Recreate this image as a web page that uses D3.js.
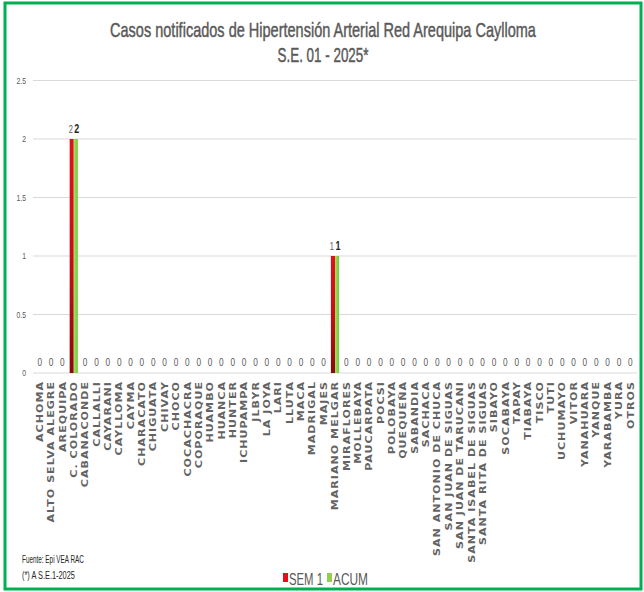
<html>
<head>
<meta charset="utf-8">
<script src="https://d3js.org/d3.v7.min.js"></script>
<style>
  body { margin: 0; background: #fff; }
  .narrow { font-family: "Liberation Sans Narrow", "Arial Narrow", "Liberation Sans", sans-serif; }
</style>
</head>
<body>
<svg id="chart"></svg>
<script>
  const districts = ["ACHOMA", "ALTO SELVA ALEGRE", "AREQUIPA", "C. COLORADO", "CABANACONDE", "CALLALLI",
    "CAYARANI", "CAYLLOMA", "CAYMA", "CHARACATO", "CHIGUATA", "CHIVAY", "CHOCO", "COCACHACRA", "COPORAQUE",
    "HUAMBO", "HUANCA", "HUNTER", "ICHUPAMPA", "JLBYR", "LA JOYA", "LARI", "LLUTA", "MACA", "MADRIGAL",
    "MAJES", "MARIANO MELGAR", "MIRAFLORES", "MOLLEBAYA", "PAUCARPATA", "POCSI", "POLOBAYA", "QUEQUEÑA",
    "SABANDIA", "SACHACA", "SAN ANTONIO DE CHUCA", "SAN JUAN DE SIGUAS", "SAN JUAN DE TARUCANI",
    "SANTA ISABEL DE SIGUAS", "SANTA RITA DE SIGUAS", "SIBAYO", "SOCABAYA", "TAPAY", "TIABAYA", "TISCO",
    "TUTI", "UCHUMAYO", "VITOR", "YANAHUARA", "YANQUE", "YARABAMBA", "YURA", "OTROS"];
  const sem1 = districts.map(d => d === "C. COLORADO" ? 2 : d === "MARIANO MELGAR" ? 1 : 0);
  const acum = districts.map(d => d === "C. COLORADO" ? 2 : d === "MARIANO MELGAR" ? 1 : 0);
  const yTicks = [0, 0.5, 1, 1.5, 2, 2.5];

  const W = 644, H = 592;
  const svg = d3.select("#chart").attr("width", W).attr("height", H);

  // squeeze text sideways (no Arial Narrow here), keeping it anchored
  function squeeze(sel, cx, cy, target) {
    const len = sel.node().getComputedTextLength();
    const k = target / len;
    sel.attr("transform", "translate(" + cx + "," + cy + ") scale(" + k + ",1)");
    return sel;
  }

  const defs = svg.append("defs");
  const gr = defs.append("linearGradient").attr("id", "gRed").attr("x1", 0).attr("y1", 0).attr("x2", 0).attr("y2", 1);
  gr.append("stop").attr("offset", "0%").attr("stop-color", "#e3101a");
  gr.append("stop").attr("offset", "50%").attr("stop-color", "#c80e14");
  gr.append("stop").attr("offset", "100%").attr("stop-color", "#8a0909");
  const gg = defs.append("linearGradient").attr("id", "gGreen").attr("x1", 0).attr("y1", 0).attr("x2", 1).attr("y2", 0);
  gg.append("stop").attr("offset", "0%").attr("stop-color", "#a6e062");
  gg.append("stop").attr("offset", "100%").attr("stop-color", "#6ccc3a");

  // border
  svg.append("rect").attr("x", 5).attr("y", 3).attr("width", 636).attr("height", 586)
    .attr("fill", "none").attr("stroke", "#00b050").attr("stroke-width", 3);

  // title
  const t1 = svg.append("text").attr("class", "narrow").attr("text-anchor", "middle").attr("fill", "#595959")
    .attr("stroke", "#595959").attr("stroke-width", 0.45).style("font-size", "20px")
    .text("Casos notificados de Hipertensión Arterial Red Arequipa  Caylloma");
  squeeze(t1, 323, 37, 426);
  const t2 = svg.append("text").attr("class", "narrow").attr("text-anchor", "middle").attr("fill", "#595959")
    .attr("stroke", "#595959").attr("stroke-width", 0.45).style("font-size", "20px")
    .text("S.E. 01 - 2025*");
  squeeze(t2, 323, 62, 91);

  const x = d3.scaleBand().domain(districts).range([34, 636]).paddingInner(0.28).paddingOuter(0.14);
  const sub = d3.scaleBand().domain(["sem", "acum"]).range([0, x.bandwidth()]);
  const y = d3.scaleLinear().domain([0, 2.5]).range([373, 80.5]);

  // grid
  svg.append("g").selectAll("line").data(yTicks).join("line")
    .attr("x1", 33).attr("x2", 637).attr("y1", d => y(d)).attr("y2", d => y(d))
    .attr("stroke", "#d9d9d9").attr("stroke-width", 1);

  // y tick labels
  svg.append("g").selectAll("text").data(yTicks).join("text")
    .attr("class", "narrow").attr("text-anchor", "end").attr("fill", "#595959").style("font-size", "8.5px")
    .attr("transform", d => "translate(26," + (y(d) + 3) + ") scale(0.8,1)")
    .text(d => d);

  // bars
  svg.append("g").selectAll("rect").data(districts).join("rect")
    .attr("x", d => x(d) + sub("sem")).attr("width", sub.bandwidth())
    .attr("y", (d, i) => y(sem1[i])).attr("height", (d, i) => y(0) - y(sem1[i]))
    .attr("fill", "url(#gRed)");
  svg.append("g").selectAll("rect").data(districts).join("rect")
    .attr("x", d => x(d) + sub("acum")).attr("width", sub.bandwidth())
    .attr("y", (d, i) => y(acum[i])).attr("height", (d, i) => y(0) - y(acum[i]))
    .attr("fill", "url(#gGreen)");

  // data labels
  const lab = svg.append("g").attr("class", "narrow").attr("text-anchor", "middle");
  districts.forEach((d, i) => {
    if (acum[i] === 0 && sem1[i] === 0) {
      lab.append("text").attr("transform", "translate(" + (x(d) + x.bandwidth() / 2) + "," + (y(0) - 7) + ") scale(0.75,1)")
        .style("font-size", "11px").attr("fill", "#595959").text("0");
    } else {
      lab.append("text").attr("transform", "translate(" + (x(d) + sub("sem") + sub.bandwidth() / 2 - 1) + "," + (y(sem1[i]) - 6) + ") scale(0.75,1)")
        .style("font-size", "10px").attr("fill", "#595959").text(sem1[i]);
      lab.append("text").attr("transform", "translate(" + (x(d) + sub("acum") + sub.bandwidth() / 2 + 1) + "," + (y(acum[i]) - 6) + ") scale(0.75,1)")
        .style("font-size", "12px").style("font-weight", "bold").attr("fill", "#262626").text(acum[i]);
    }
  });

  // x labels
  svg.append("g").selectAll("text").data(districts).join("text")
    .attr("transform", d => "translate(" + (x(d) + x.bandwidth() / 2 + 3.2) + ",381) rotate(-90) scale(1.3,1)")
    .attr("text-anchor", "end")
    .style("font-family", "'DejaVu Sans', Verdana, sans-serif").style("font-size", "8.5px")
    .style("font-weight", "bold").style("letter-spacing", "0.8px")
    .attr("fill", "#636363").text(d => d);

  // footer
  const foot = svg.append("g").attr("class", "narrow").attr("fill", "#262626").style("font-size", "10px");
  squeeze(foot.append("text").text("Fuente: Epi VEA RAC"), 22, 563, 62);
  squeeze(foot.append("text").text("(*) A S.E.1-2025"), 22, 579, 53);

  // legend
  const legend = [["SEM 1", "#e3101a", 283, 34], ["ACUM", "#92d050", 327, 35]];
  const lg = svg.append("g");
  legend.forEach(l => {
    lg.append("rect").attr("x", l[2]).attr("y", 573).attr("width", 5).attr("height", 9).attr("fill", l[1]);
    const tx = lg.append("text").attr("class", "narrow").attr("fill", "#595959").style("font-size", "16px").text(l[0]);
    squeeze(tx, l[2] + 6, 585, l[3]);
  });
</script>
</body>
</html>
